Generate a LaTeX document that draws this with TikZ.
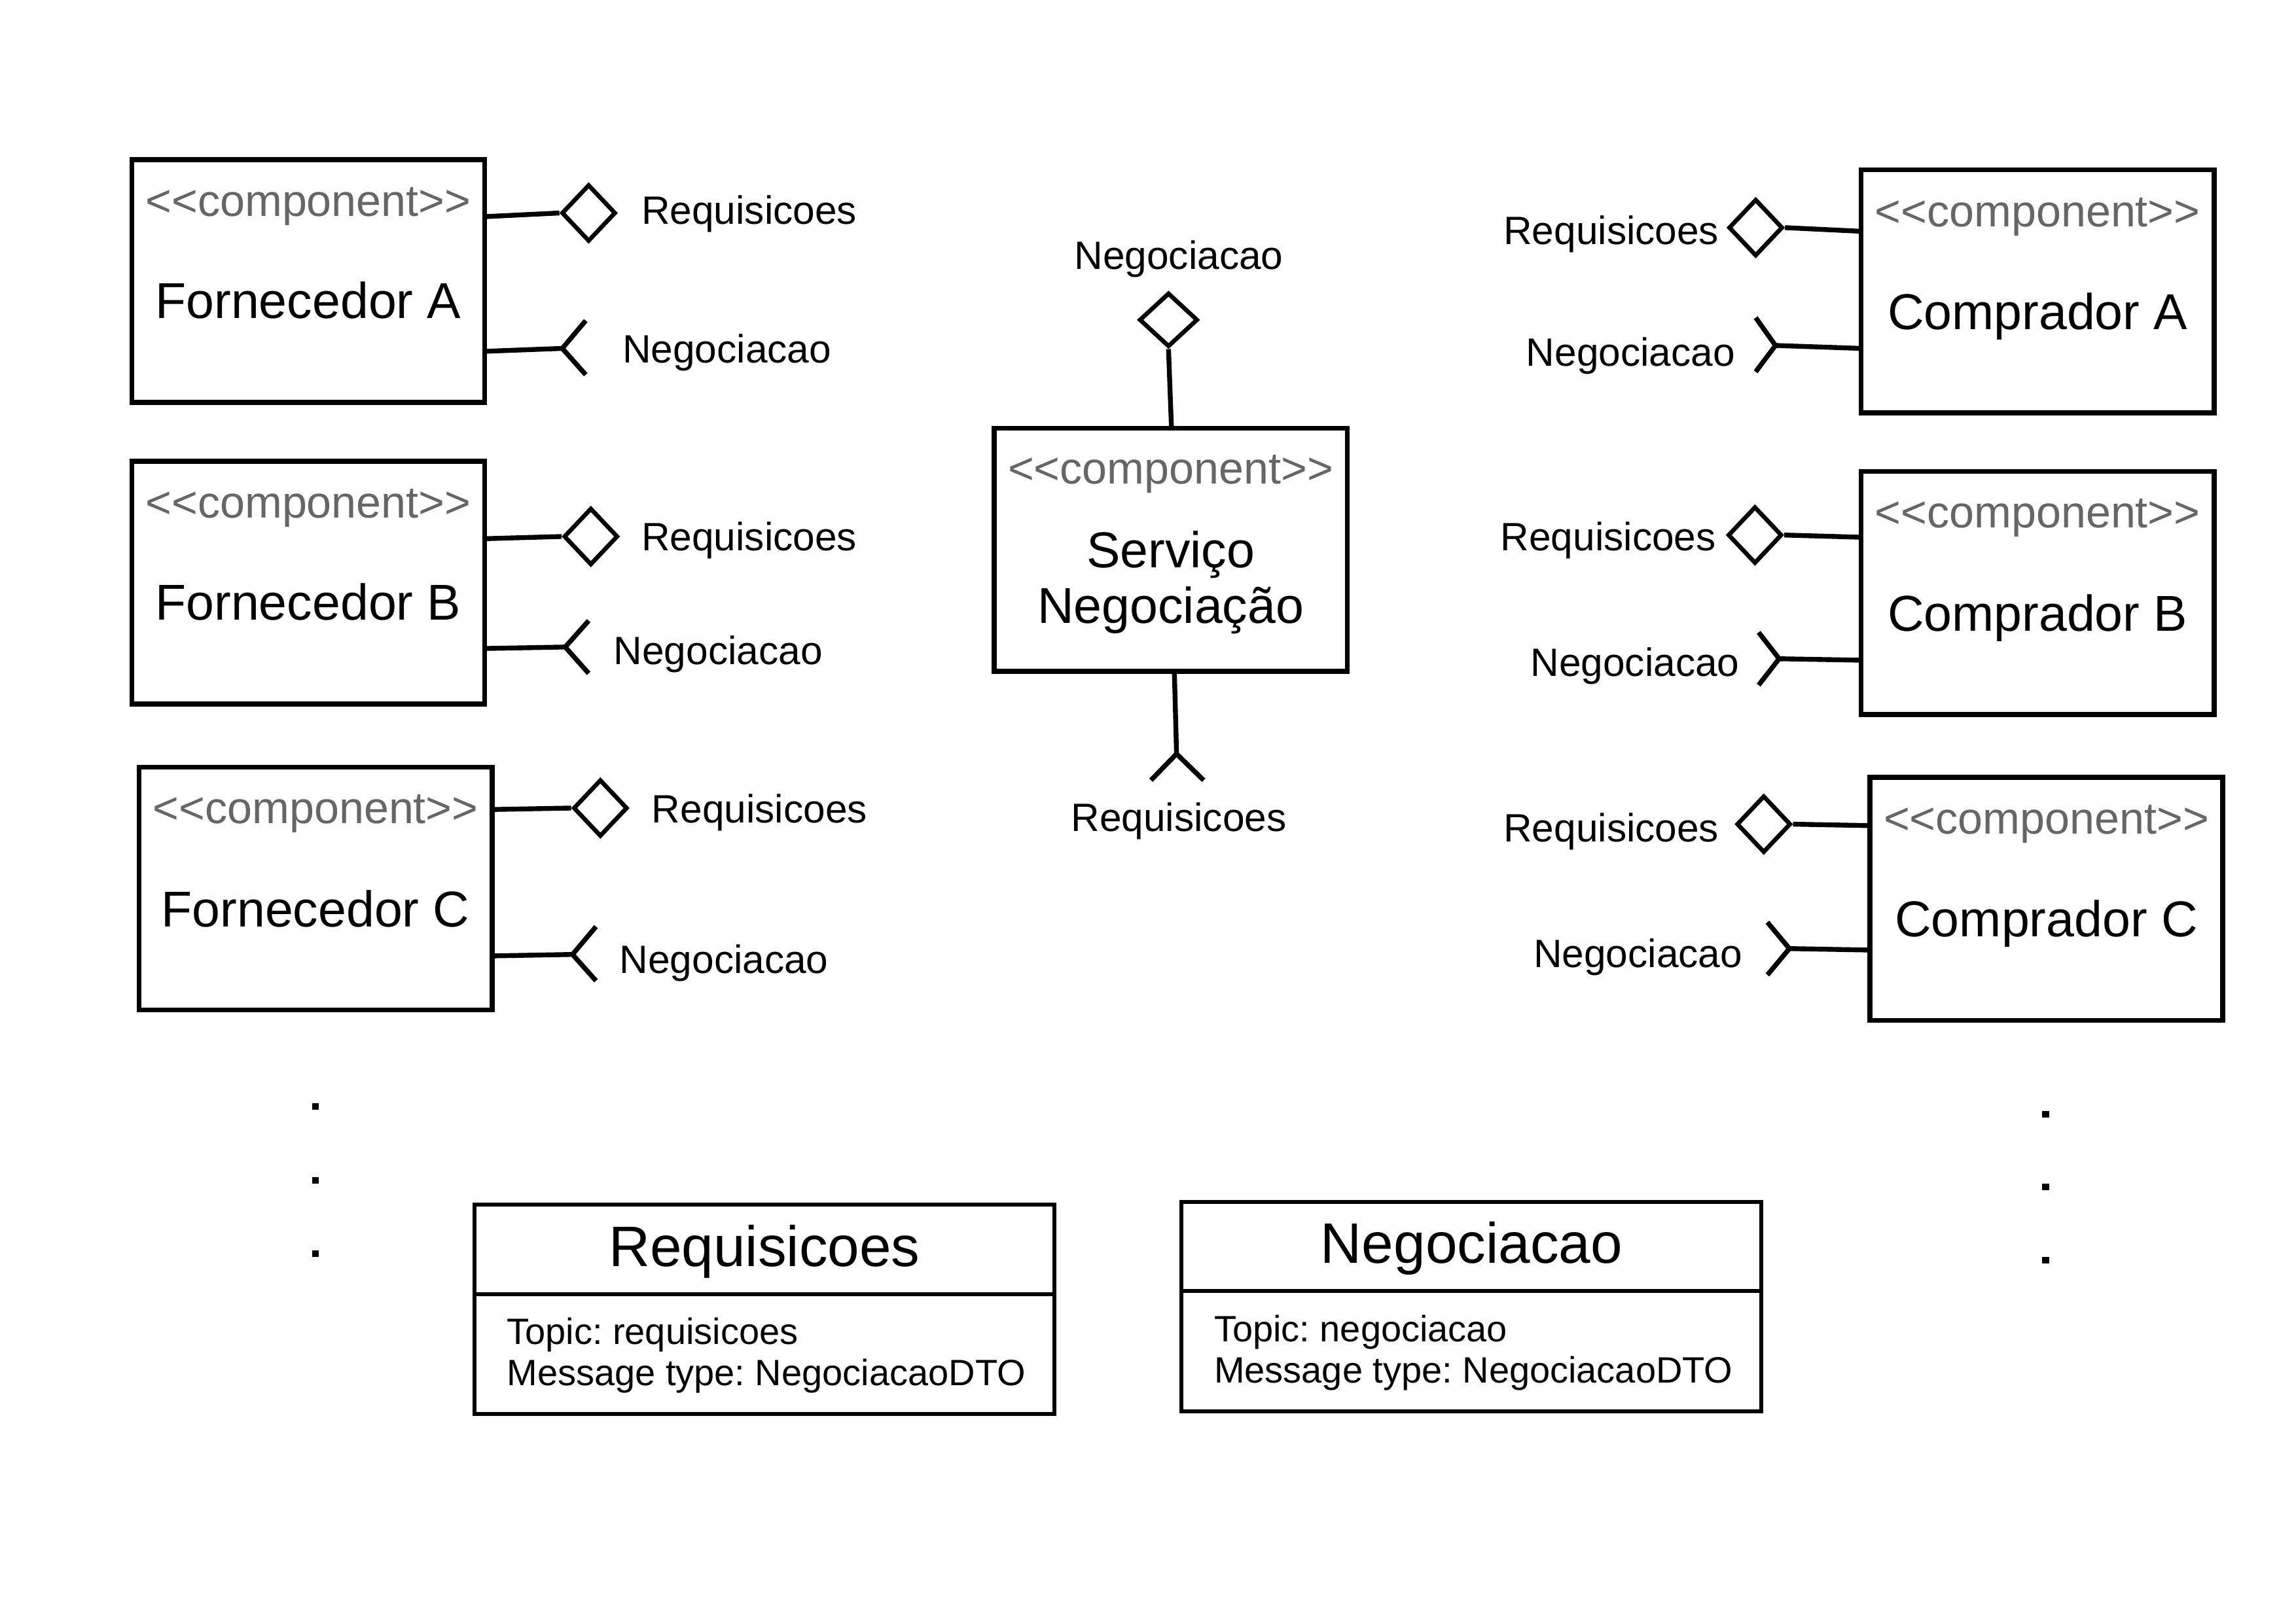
\documentclass[tikz,border=0pt]{standalone}
\usepackage{fontspec}
\setmainfont{Liberation Sans}
\usetikzlibrary{shapes.geometric}
\definecolor{stgray}{HTML}{666666}
\newcommand{\stereotxt}{<{}<component>{}>}
\begin{document}
\frenchspacing
\begin{tikzpicture}[x=0.5mm,y=-0.5mm,
  comp/.style={draw, line width=4.8pt, minimum width=120.5mm, minimum height=83mm, inner sep=0pt},
  stereo/.style={text=stgray, font=\fontsize{43.4}{48}\selectfont, inner sep=0pt},
  cname/.style={font=\fontsize{49}{54}\selectfont, inner sep=0pt, align=center},
  port/.style={font=\fontsize{38.4}{42}\selectfont, inner sep=0pt},
  prov/.style={draw, diamond, line width=4.2pt, minimum width=18.5mm, minimum height=19.5mm, inner sep=0pt},
  wire/.style={line width=4.7pt},
  topicbox/.style={draw, line width=3.8pt, minimum width=198mm, inner sep=0pt},
  ttitle/.style={font=\fontsize{55.5}{60}\selectfont, inner sep=0pt},
  tbody/.style={font=\fontsize{35.6}{40}\selectfont, inner sep=0pt, align=left},
  dotsq/.style={fill=black, minimum size=2.25mm, inner sep=0pt}
]
\fill[white] (0,0) rectangle (1568,1109.4);

% ---------- Fornecedor boxes ----------
\node[comp] (fa) at (210.5,192) {};
\node[stereo] (fa-st) at (210.5,141) {\stereotxt};
\node[cname] (fa-nm) at (210.5,205) {Fornecedor A};

\node[comp] (fb) at (210.5,398) {};
\node[stereo] (fb-st) at (210.5,347) {\stereotxt};
\node[cname] (fb-nm) at (210.5,411) {Fornecedor B};

\node[comp] (fc) at (215.5,607) {};
\node[stereo] (fc-st) at (215.5,556) {\stereotxt};
\node[cname] (fc-nm) at (215.5,621) {Fornecedor C};

% ---------- Servico ----------
\node[comp] (sv) at (799.5,375.5) {};
\node[stereo] (sv-st) at (799.5,324) {\stereotxt};
\node[cname] (sv-nm) at (799.5,398) {Serviço\\Negociação};

% ---------- Comprador boxes ----------
\node[comp] (ca) at (1391.5,199) {};
\node[stereo] (ca-st) at (1391.5,148) {\stereotxt};
\node[cname] (ca-nm) at (1391.5,216) {Comprador A};

\node[comp] (cb) at (1391.5,405) {};
\node[stereo] (cb-st) at (1391.5,354) {\stereotxt};
\node[cname] (cb-nm) at (1391.5,422) {Comprador B};

\node[comp] (cc) at (1397.5,614) {};
\node[stereo] (cc-st) at (1397.5,563) {\stereotxt};
\node[cname] (cc-nm) at (1397.5,631) {Comprador C};

% ---------- Fornecedor A ports ----------
\node[prov] (fa-d) at (402,145.5) {};
\coordinate (fa-r) at (331,148);
\draw[wire] (fa-r) -- (fa-d.west);
\node[port, anchor=west] (fa-rl) at (438,146) {Requisicoes};
\coordinate (fa-n) at (331,240);
\coordinate (fa-v) at (384,238);
\coordinate (fa-a1) at (400,219);
\coordinate (fa-a2) at (400,256);
\draw[wire] (fa-n) -- (fa-v);
\draw[wire] (fa-a1) -- (fa-v) -- (fa-a2);
\node[port, anchor=west] (fa-nl) at (425,241) {Negociacao};

% ---------- Fornecedor B ports ----------
\node[prov] (fb-d) at (403.5,366.5) {};
\coordinate (fb-r) at (331,368);
\draw[wire] (fb-r) -- (fb-d.west);
\node[port, anchor=west] (fb-rl) at (438,369) {Requisicoes};
\coordinate (fb-n) at (331,443);
\coordinate (fb-v) at (386,442);
\coordinate (fb-a1) at (402,424);
\coordinate (fb-a2) at (402,460);
\draw[wire] (fb-n) -- (fb-v);
\draw[wire] (fb-a1) -- (fb-v) -- (fb-a2);
\node[port, anchor=west] (fb-nl) at (419,447) {Negociacao};

% ---------- Fornecedor C ports ----------
\node[prov] (fc-d) at (410,552) {};
\coordinate (fc-r) at (336,553);
\draw[wire] (fc-r) -- (fc-d.west);
\node[port, anchor=west] (fc-rl) at (445,555) {Requisicoes};
\coordinate (fc-n) at (336,653);
\coordinate (fc-v) at (391,652);
\coordinate (fc-a1) at (407,633);
\coordinate (fc-a2) at (407,670);
\draw[wire] (fc-n) -- (fc-v);
\draw[wire] (fc-a1) -- (fc-v) -- (fc-a2);
\node[port, anchor=west] (fc-nl) at (423,658) {Negociacao};

% ---------- Servico ports ----------
\node[prov, minimum width=20mm, minimum height=18.5mm] (sv-d) at (798,218.5) {};
\coordinate (sv-t) at (800,292);
\draw[wire] (sv-t) -- (sv-d.south);
\node[port] (sv-nl) at (805,177) {Negociacao};
\coordinate (sv-b) at (802,459);
\coordinate (sv-v) at (803.5,515);
\coordinate (sv-a1) at (786,533);
\coordinate (sv-a2) at (822,533);
\draw[wire] (sv-b) -- (sv-v);
\draw[wire] (sv-a1) -- (sv-v) -- (sv-a2);
\node[port] (sv-rl) at (805,561) {Requisicoes};

% ---------- Comprador A ports ----------
\node[prov] (ca-d) at (1199,155.5) {};
\coordinate (ca-r) at (1271,158);
\draw[wire] (ca-d.east) -- (ca-r);
\node[port, anchor=east] (ca-rl) at (1174,160) {Requisicoes};
\coordinate (ca-n) at (1271,238);
\coordinate (ca-v) at (1212.5,236);
\coordinate (ca-a1) at (1199,217);
\coordinate (ca-a2) at (1199,254);
\draw[wire] (ca-v) -- (ca-n);
\draw[wire] (ca-a1) -- (ca-v) -- (ca-a2);
\node[port, anchor=east] (ca-nl) at (1185,243) {Negociacao};

% ---------- Comprador B ports ----------
\node[prov] (cb-d) at (1198.5,365.5) {};
\coordinate (cb-r) at (1271,367);
\draw[wire] (cb-d.east) -- (cb-r);
\node[port, anchor=east] (cb-rl) at (1172,369) {Requisicoes};
\coordinate (cb-n) at (1271,451);
\coordinate (cb-v) at (1215,450);
\coordinate (cb-a1) at (1201,432);
\coordinate (cb-a2) at (1201,468);
\draw[wire] (cb-v) -- (cb-n);
\draw[wire] (cb-a1) -- (cb-v) -- (cb-a2);
\node[port, anchor=east] (cb-nl) at (1188,455) {Negociacao};

% ---------- Comprador C ports ----------
\node[prov] (cc-d) at (1204.5,563) {};
\coordinate (cc-r) at (1277,564);
\draw[wire] (cc-d.east) -- (cc-r);
\node[port, anchor=east] (cc-rl) at (1174,568) {Requisicoes};
\coordinate (cc-n) at (1277,649);
\coordinate (cc-v) at (1222,648);
\coordinate (cc-a1) at (1207,630);
\coordinate (cc-a2) at (1207,666);
\draw[wire] (cc-v) -- (cc-n);
\draw[wire] (cc-a1) -- (cc-v) -- (cc-a2);
\node[port, anchor=east] (cc-nl) at (1190,654) {Negociacao};

% ---------- dots ----------
\node[dotsq] (ld1) at (215.6,755.7) {};
\node[dotsq] (ld2) at (215.6,806.2) {};
\node[dotsq] (ld3) at (215.6,856.3) {};
\node[dotsq] (rd1) at (1397,761) {};
\node[dotsq] (rd2) at (1397,811) {};
\node[dotsq] (rd3) at (1397,861) {};

% ---------- topic boxes ----------
\node[topicbox, minimum height=30.5mm] (rq-h) at (522,853.5) {};
\node[topicbox, minimum height=41mm] (rq-b) at (522,925) {};
\node[ttitle] (rq-t) at (522,855) {Requisicoes};
\node[tbody, anchor=west] (rq-x) at (346,926) {Topic: requisicoes\\Message type: NegociacaoDTO};

\node[topicbox, minimum height=30.5mm] (ng-h) at (1005,851.5) {};
\node[topicbox, minimum height=41mm] (ng-b) at (1005,923) {};
\node[ttitle] (ng-t) at (1005,853) {Negociacao};
\node[tbody, anchor=west] (ng-x) at (829,924) {Topic: negociacao\\Message type: NegociacaoDTO};
\end{tikzpicture}
\end{document}
